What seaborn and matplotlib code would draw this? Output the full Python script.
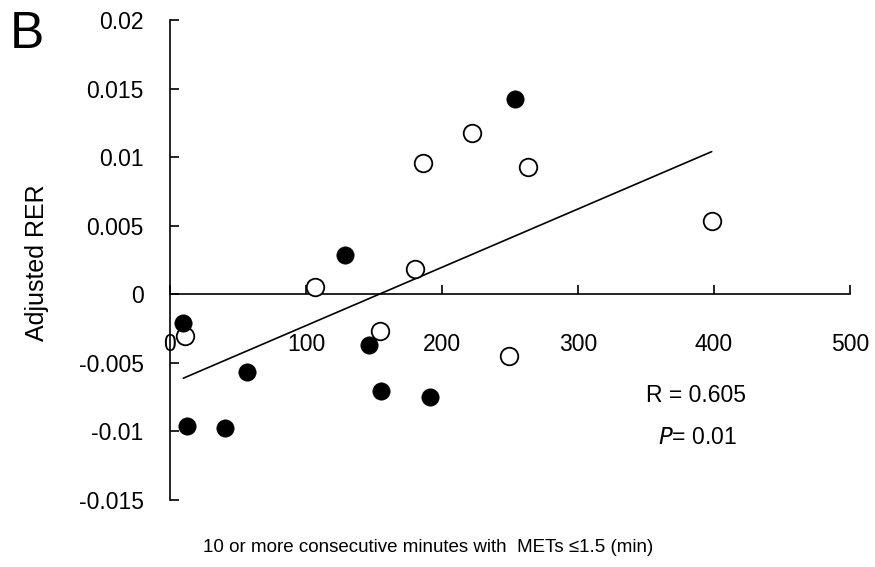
import matplotlib
matplotlib.use("Agg")
import matplotlib.pyplot as plt
import seaborn as sns
import pandas as pd
import numpy as np

sns.set_theme(style="white")
plt.rcParams['font.family'] = ['Liberation Sans', 'DejaVu Sans']
for k in ['text.color', 'axes.labelcolor', 'xtick.color', 'ytick.color', 'axes.edgecolor']:
    plt.rcParams[k] = 'black'

# Data
open_x = [11.0, 106.4, 154.4, 180.5, 249.5, 185.8, 222.1, 263.2, 398.3]
open_y = [-0.00303, 0.00053, -0.00267, 0.00187, -0.00449, 0.00958, 0.01176, 0.00931, 0.00533]
filled_x = [9.8, 12.3, 40.2, 56.4, 128.9, 146.3, 154.9, 191.2, 253.7]
filled_y = [-0.00206, -0.00962, -0.00977, -0.00569, 0.00284, -0.00371, -0.00703, -0.00747, 0.01425]

x_ticks = [0, 100, 200, 300, 400, 500]
y_ticks = [-0.015, -0.01, -0.005, 0, 0.005, 0.01, 0.015, 0.02]
y_tick_labels = ["-0.015", "-0.01", "-0.005", "0", "0.005", "0.01", "0.015", "0.02"]

df_open = pd.DataFrame({"x": open_x, "y": open_y})
df_filled = pd.DataFrame({"x": filled_x, "y": filled_y})
df_all = pd.concat([df_open, df_filled], ignore_index=True)

W, H = 875, 567
fig = plt.figure(figsize=(W / 100, H / 100), dpi=100)
ax = fig.add_axes([170 / W, (H - 500) / H, (850 - 170) / W, (500 - 20) / H])

sns.regplot(data=df_all, x="x", y="y", ax=ax, scatter=False, ci=None, truncate=True,
            line_kws=dict(color="black", lw=1.2))
sns.scatterplot(data=df_open, x="x", y="y", ax=ax, s=160, facecolor="white",
                edgecolor="black", linewidth=1.3, zorder=3)
sns.scatterplot(data=df_filled, x="x", y="y", ax=ax, s=155, color="black",
                edgecolor="black", linewidth=0.5, zorder=3)

ax.set_xlim(0, 500)
ax.set_ylim(-0.015, 0.02)
ax.spines['left'].set_position(('data', 0))
ax.spines['bottom'].set_position(('data', 0))
ax.spines['top'].set_visible(False)
ax.spines['right'].set_visible(False)
for s in ['left', 'bottom']:
    ax.spines[s].set_linewidth(1.2)
    ax.spines[s].set_color('black')

ax.set_xticks(x_ticks)
ax.set_xticklabels([str(t) for t in x_ticks])
ax.set_yticks(y_ticks)
ax.set_yticklabels(y_tick_labels)
ax.tick_params(axis='x', direction='in', length=6.5, width=1.2, pad=28, labelsize=16.5, colors='black')
ax.tick_params(axis='y', direction='in', length=6.5, width=1.2, pad=19, labelsize=16.5, colors='black')
ax.tick_params(left=True, bottom=True)

ax.set_xlabel("")
ax.set_ylabel("")

fig.text(37 / W, 1 - 263 / H, "Adjusted RER", rotation=90, ha='center', va='center', fontsize=18)
fig.text(428 / W, 1 - 548 / H, "10 or more consecutive minutes with  METs \u22641.5 (min)",
         ha='center', va='center', fontsize=13.5)
fig.text(27 / W, 1 - 35 / H, "B", ha='center', va='center', fontsize=37)
fig.text(696 / W, 1 - 395 / H, "R = 0.605", ha='center', va='center', fontsize=16.5)
fig.text(697 / W, 1 - 437 / H, r"$\it{P}$= 0.01", ha='center', va='center', fontsize=16.5)

fig.savefig("out.png", dpi=100)
